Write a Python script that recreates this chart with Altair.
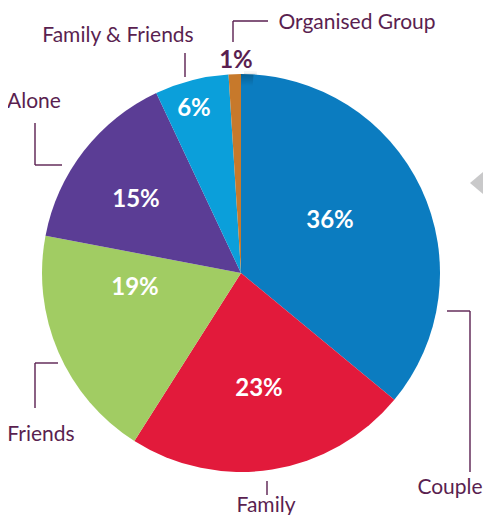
import altair as alt
import pandas as pd

# ---- data ----
categories = ["Couple", "Family", "Friends", "Alone", "Family & Friends", "Organised Group"]
shares = [36, 23, 19, 15, 6, 1]
colors = ["#0B7CC0", "#E21A3B", "#A1CC63", "#5B3D95", "#0B9FDA", "#C7792B"]
pct_labels = ["36%", "23%", "19%", "15%", "6%", "1%"]

# ---- layout (pixel positions of annotations, chart coordinates) ----
W, H = 475, 507
CX, CY, R = 233, 265, 199
pct_x = [322, 251, 127, 128, 186, 228]
pct_y = [213, 381, 280, 192, 101, 53]
pct_color = ["white", "white", "white", "white", "white", "#5A1F50"]

cat_x = [442, 258, 33, 26, 110, 349]
cat_y = [480, 498, 427, 94, 28, 15]

segments = [  # x, y, x2, y2
    (439, 303, 462, 303), (462, 303, 462, 464),          # Couple
    (259, 473, 259, 487),                                  # Family
    (50, 355, 27, 355), (27, 355, 27, 400),               # Friends
    (27, 115, 27, 157), (27, 157, 54, 157),               # Alone
    (177, 45, 177, 69),                                    # Family & Friends
    (225, 34, 225, 13), (225, 13, 260, 13),               # Organised Group
]

pie_df = pd.DataFrame({"cat": categories, "share": shares, "order": list(range(len(categories)))})
pct_df = pd.DataFrame({"t": pct_labels, "px": pct_x, "py": pct_y, "c": pct_color})
cat_df = pd.DataFrame({"t": categories, "px": cat_x, "py": cat_y})
seg_df = pd.DataFrame(segments, columns=["x", "y", "x2", "y2"])
one = pd.DataFrame({"v": [1]})

purple = "#5A1F50"
font = "Lato"

shadows = []
for dr, op in [(8, 0.04), (6, 0.06), (4, 0.08), (2, 0.1)]:
    shadows.append(
        alt.Chart(one).mark_arc(outerRadius=R + dr, color="#000000", opacity=op).encode(
            theta=alt.Theta("v:Q"), x=alt.value(CX + 3), y=alt.value(CY + 5)
        )
    )

pie = alt.Chart(pie_df).mark_arc(outerRadius=R).encode(
    theta=alt.Theta("share:Q", stack=True),
    order=alt.Order("order:Q"),
    color=alt.Color("cat:N", scale=alt.Scale(domain=categories, range=colors), legend=None),
    x=alt.value(CX), y=alt.value(CY),
)

shade = alt.Chart(one).mark_arc(
    outerRadius=R,
    fill={
        "gradient": "radial", "x1": 0.5, "y1": 0.5, "r1": 0, "x2": 0.5, "y2": 0.5, "r2": 0.5,
        "stops": [
            {"offset": 0, "color": "rgba(255,255,255,0)"},
            {"offset": 0.88, "color": "rgba(0,0,0,0)"},
            {"offset": 1, "color": "rgba(0,0,0,0.22)"},
        ],
    },
).encode(theta=alt.Theta("v:Q"), x=alt.value(CX), y=alt.value(CY))

lines = alt.Chart(seg_df).mark_rule(color=purple, strokeWidth=1.4).encode(
    x=alt.X("x:Q", scale=None), y=alt.Y("y:Q", scale=None),
    x2="x2:Q", y2="y2:Q",
)

cat_text = alt.Chart(cat_df).mark_text(font=font, fontSize=21, color=purple).encode(
    x=alt.X("px:Q", scale=None), y=alt.Y("py:Q", scale=None), text="t:N"
)

pct_text = alt.Chart(pct_df).mark_text(font=font, fontSize=24, fontWeight="bold").encode(
    x=alt.X("px:Q", scale=None), y=alt.Y("py:Q", scale=None), text="t:N",
    color=alt.Color("c:N", scale=None),
)

tri = alt.Chart(one).mark_point(
    shape="M -1 0 L 1 -1.7 L 1 1.7 Z", size=1600, filled=True, color="#C9C9CA", opacity=1
).encode(x=alt.value(482), y=alt.value(175))

chart = alt.layer(*shadows, pie, shade, lines, cat_text, pct_text, tri).properties(
    width=W, height=H, padding={"left": 0, "top": 0, "right": 0, "bottom": 0}, autosize="none"
).configure_view(stroke=None)

chart.save("out.html", embed_options={"renderer": "svg", "actions": False})
